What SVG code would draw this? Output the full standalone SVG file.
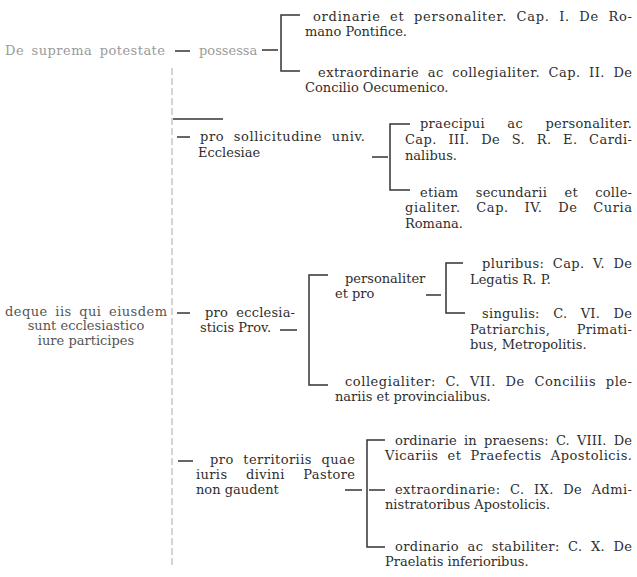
<svg xmlns="http://www.w3.org/2000/svg" width="637" height="577" viewBox="0 0 637 577">
<style>
text{font-family:"DejaVu Serif","Liberation Serif",serif;font-size:13px;fill:#2e2e2e}
.faint{fill:#9a9a9a}
.mid{fill:#555}
.ln{stroke:#333;stroke-width:1.5;fill:none}
.trunk{stroke:#aaa;stroke-width:1;stroke-dasharray:7 3;fill:none}
</style>
<rect width="637" height="577" fill="#ffffff"/>
<g id="connectors">
<line class="trunk" x1="172" y1="68" x2="172" y2="565"/>
<line class="ln" x1="175" y1="51" x2="190" y2="51"/>
<line class="ln" x1="262" y1="50" x2="278" y2="50"/>
<path class="ln" d="M300,15 H281 V71 H300"/>
<line class="ln" x1="173" y1="119" x2="223" y2="119"/>
<line class="ln" x1="177" y1="137" x2="190" y2="137"/>
<line class="ln" x1="372" y1="157" x2="388" y2="157"/>
<path class="ln" d="M410,124 H390 V190 H410"/>
<line class="ln" x1="177" y1="313" x2="190" y2="313"/>
<line class="ln" x1="280" y1="330" x2="297" y2="330"/>
<path class="ln" d="M328,275 H309 V385 H328"/>
<line class="ln" x1="426" y1="295" x2="441" y2="295"/>
<path class="ln" d="M463,263 H446 V313 H465"/>
<line class="ln" x1="178" y1="461" x2="193" y2="461"/>
<line class="ln" x1="345" y1="490" x2="362" y2="490"/>
<path class="ln" d="M385,440 H367 V547 H385"/>
<line class="ln" x1="369" y1="490" x2="385" y2="490"/>
</g>
<g id="n0"><text class="faint" x="5" y="55" word-spacing="3" textLength="160" lengthAdjust="spacing">De suprema potestate</text></g>
<g id="n1"><text class="faint" x="199" y="55">possessa</text></g>
<g id="n2">
<text x="313" y="21" word-spacing="4.5" textLength="319" lengthAdjust="spacing">ordinarie et personaliter. Cap. I. De Ro-</text>
<text x="305" y="36">mano Pontifice.</text>
</g>
<g id="n3">
<text x="318" y="77" word-spacing="4" textLength="314" lengthAdjust="spacing">extraordinarie ac collegialiter. Cap. II. De</text>
<text x="305" y="92">Concilio Oecumenico.</text>
</g>
<g id="n4">
<text x="200" y="141" word-spacing="5" textLength="165" lengthAdjust="spacing">pro sollicitudine univ.</text>
<text x="198" y="157">Ecclesiae</text>
</g>
<g id="n5">
<text x="420" y="128" word-spacing="18" textLength="212" lengthAdjust="spacing">praecipui ac personaliter.</text>
<text x="405" y="144" word-spacing="7" textLength="227" lengthAdjust="spacing">Cap. III. De S. R. E. Cardi-</text>
<text x="405" y="160">nalibus.</text>
</g>
<g id="n6">
<text x="420" y="197" word-spacing="13" textLength="212" lengthAdjust="spacing">etiam secundarii et colle-</text>
<text x="405" y="212" word-spacing="11" textLength="227" lengthAdjust="spacing">gialiter. Cap. IV. De Curia</text>
<text x="405" y="228">Romana.</text>
</g>
<g id="n7">
<text class="mid" x="5" y="316" word-spacing="3" textLength="162" lengthAdjust="spacing">deque iis qui eiusdem</text>
<text class="mid" x="86" y="330" text-anchor="middle">sunt ecclesiastico</text>
<text class="mid" x="86" y="345" text-anchor="middle">iure participes</text>
</g>
<g id="n8">
<text x="205" y="317" word-spacing="4" textLength="90" lengthAdjust="spacing">pro ecclesia-</text>
<text x="200" y="332">sticis Prov.</text>
</g>
<g id="n9">
<text x="345" y="283">personaliter</text>
<text x="335" y="298">et pro</text>
</g>
<g id="n10">
<text x="482" y="268" word-spacing="4" textLength="150" lengthAdjust="spacing">pluribus: Cap. V. De</text>
<text x="470" y="284">Legatis R. P.</text>
</g>
<g id="n11">
<text x="482" y="318" word-spacing="9" textLength="150" lengthAdjust="spacing">singulis: C. VI. De</text>
<text x="470" y="334" word-spacing="22" textLength="162" lengthAdjust="spacing">Patriarchis, Primati-</text>
<text x="470" y="349">bus, Metropolitis.</text>
</g>
<g id="n12">
<text x="345" y="386" word-spacing="5" textLength="287" lengthAdjust="spacing">collegialiter: C. VII. De Conciliis ple-</text>
<text x="335" y="401">nariis et provincialibus.</text>
</g>
<g id="n13">
<text x="210" y="464" word-spacing="5" textLength="145" lengthAdjust="spacing">pro territoriis quae</text>
<text x="196" y="479" word-spacing="14" textLength="159" lengthAdjust="spacing">iuris divini Pastore</text>
<text x="196" y="494">non gaudent</text>
</g>
<g id="n14">
<text x="395" y="445" word-spacing="3" textLength="237" lengthAdjust="spacing">ordinarie in praesens: C. VIII. De</text>
<text x="385" y="460" word-spacing="4.5" textLength="247" lengthAdjust="spacing">Vicariis et Praefectis Apostolicis.</text>
</g>
<g id="n15">
<text x="395" y="494" word-spacing="5" textLength="237" lengthAdjust="spacing">extraordinarie: C. IX. De Admi-</text>
<text x="385" y="509">nistratoribus Apostolicis.</text>
</g>
<g id="n16">
<text x="395" y="551" word-spacing="4" textLength="237" lengthAdjust="spacing">ordinario ac stabiliter: C. X. De</text>
<text x="385" y="566">Praelatis inferioribus.</text>
</g>
</svg>
